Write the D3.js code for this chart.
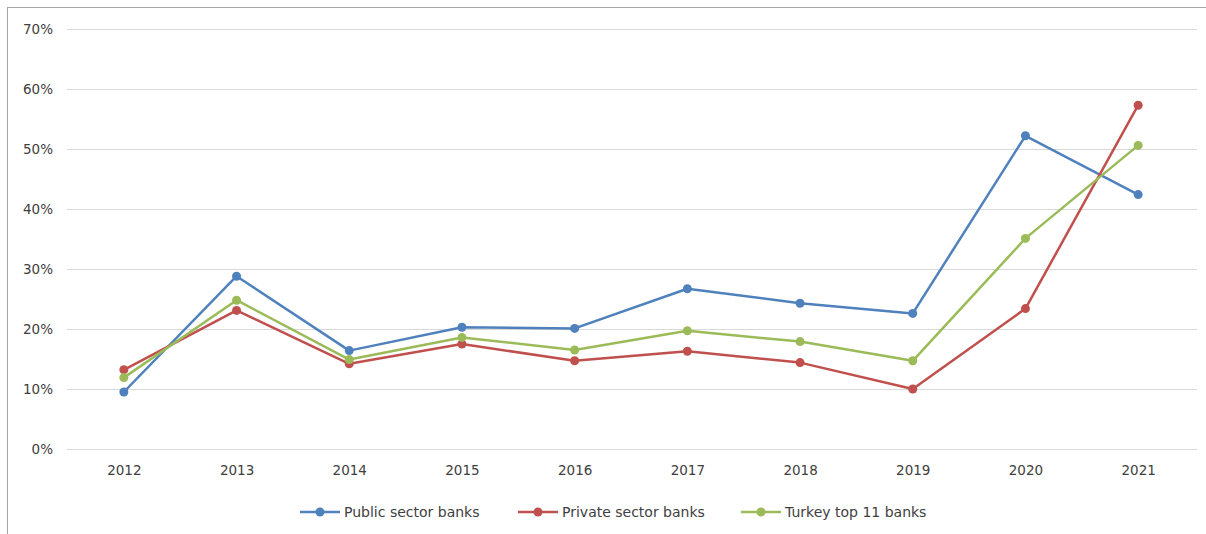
<!DOCTYPE html>
<html><head><meta charset="utf-8">
<script src="https://cdn.jsdelivr.net/npm/d3@7"></script>
<style>body{margin:0;background:#fff}svg{display:block}</style>
</head><body>
<svg id="c" width="1206" height="534"></svg>
<script>
const years = ["2012","2013","2014","2015","2016","2017","2018","2019","2020","2021"];
const publicBanks  = [0.095,0.288,0.164,0.203,0.201,0.267,0.243,0.226,0.522,0.424];
const privateBanks = [0.132,0.231,0.142,0.175,0.147,0.163,0.144,0.100,0.234,0.573];
const top11Banks   = [0.119,0.248,0.149,0.186,0.165,0.197,0.179,0.147,0.351,0.506];
const yTicks = [0,0.1,0.2,0.3,0.4,0.5,0.6,0.7];
const seriesNames = ["Public sector banks","Private sector banks","Turkey top 11 banks"];
const seriesColors = ["#4f81bd","#c0504d","#9bbb59"];
const series = [publicBanks, privateBanks, top11Banks];

const svg = d3.select("#c");
const font = "DejaVu Sans, sans-serif";
const x = d3.scalePoint().domain(years).range([67.5,1194.5]).padding(0.5);
const y = d3.scaleLinear().domain([0,0.7]).range([449,29]);

svg.append("rect").attr("x",7.5).attr("y",7.5).attr("width",1205).attr("height",540)
  .attr("fill","#fff").attr("stroke","#a6a6a6").attr("stroke-width",1);

// gridlines
const yAxis = d3.axisLeft(y).tickValues(yTicks).tickFormat(d3.format(".0%"))
  .tickSize(-(1197-67)).tickPadding(14);
const gy = svg.append("g").attr("transform","translate(67,0)").call(yAxis);
gy.select(".domain").remove();
gy.selectAll(".tick line").attr("stroke","#d9d9d9").attr("stroke-width",1);
gy.selectAll(".tick text").attr("fill","#404040").attr("font-family",font).attr("font-size","13.5px");

const xAxis = d3.axisBottom(x).tickSize(0).tickPadding(16);
const gx = svg.append("g").attr("transform","translate(0,449)").call(xAxis);
gx.select(".domain").remove();
gx.selectAll(".tick text").attr("fill","#404040").attr("font-family",font).attr("font-size","13.5px");

const line = d3.line().x((d,i)=>x(years[i])).y(d=>y(d));
series.forEach((s,k)=>{
  svg.append("path").datum(s).attr("d",line).attr("fill","none")
    .attr("stroke",seriesColors[k]).attr("stroke-width",2.5).attr("stroke-linejoin","round");
});
series.forEach((s,k)=>{
  svg.append("g").selectAll("circle").data(s).join("circle")
    .attr("cx",(d,i)=>x(years[i])).attr("cy",d=>y(d)).attr("r",4.5)
    .attr("fill",seriesColors[k]);
});

// legend
const legendX = [300,518,741];
const lg = svg.append("g").attr("transform","translate(0,512)");
seriesNames.forEach((n,k)=>{
  const g = lg.append("g").attr("transform",`translate(${legendX[k]},0)`);
  g.append("line").attr("x1",0).attr("x2",40).attr("y1",0).attr("y2",0)
    .attr("stroke",seriesColors[k]).attr("stroke-width",2.5);
  g.append("circle").attr("cx",20).attr("cy",0).attr("r",4.5).attr("fill",seriesColors[k]);
  g.append("text").attr("x",44).attr("y",0).attr("dy","0.35em")
    .attr("font-family",font).attr("font-size","14px").attr("fill","#404040").text(n);
});
</script>
</body></html>
